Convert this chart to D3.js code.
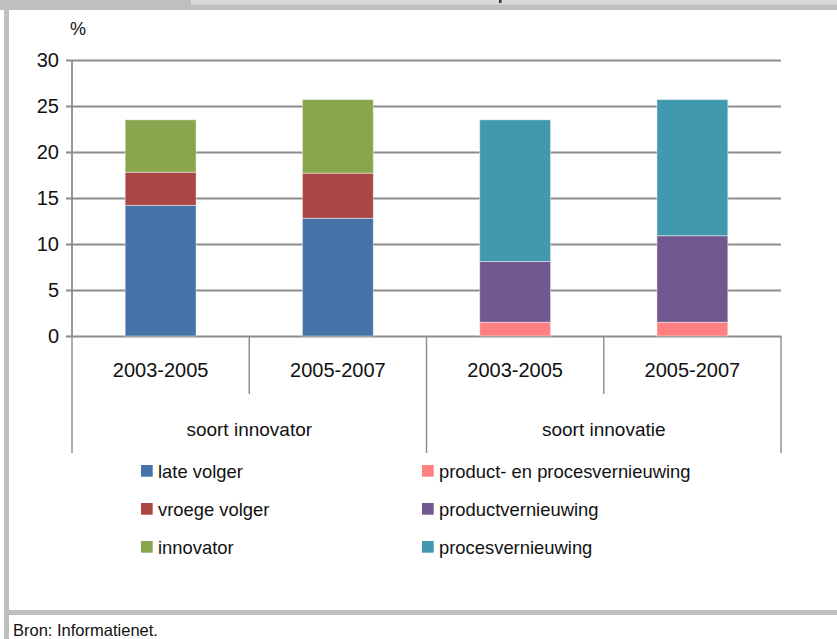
<!DOCTYPE html>
<html>
<head>
<meta charset="utf-8">
<script src="https://cdnjs.cloudflare.com/ajax/libs/d3/7.8.5/d3.min.js"></script>
<style>
  html, body { margin: 0; padding: 0; background: #fff; }
  svg { display: block; font-family: "Liberation Sans", Arial, sans-serif; }
</style>
</head>
<body>
<svg id="chart" width="837" height="639"></svg>
<script>
// Category axis: period per bar, grouped in two blocks
const periods = ["2003-2005", "2005-2007", "2003-2005", "2005-2007"];
const groups = ["soort innovator", "soort innovatie"];
const groupOf = [0, 0, 1, 1];

// Series values (%), one entry per bar
const lateVolger         = [14.2, 12.8, 0, 0];
const vroegeVolger       = [3.6, 4.9, 0, 0];
const innovator          = [5.7, 8.0, 0, 0];
const productEnProces    = [0, 0, 1.5, 1.5];
const productVernieuwing = [0, 0, 6.6, 9.4];
const procesVernieuwing  = [0, 0, 15.4, 14.8];

const seriesNames = ["late volger", "vroege volger", "innovator",
  "product- en procesvernieuwing", "productvernieuwing", "procesvernieuwing"];
const seriesValues = [lateVolger, vroegeVolger, innovator,
  productEnProces, productVernieuwing, procesVernieuwing];
const seriesColors = ["#4572a7", "#aa4643", "#89a54e", "#ff8080", "#71588f", "#4198af"];

const yTicks = [0, 5, 10, 15, 20, 25, 30];

const svg = d3.select("#chart");

// Page frame
svg.append("rect").attr("x", 0).attr("y", 0).attr("width", 837).attr("height", 10).attr("fill", "#bfbfbf");
svg.append("rect").attr("x", 191).attr("y", 0).attr("width", 646).attr("height", 4.7).attr("fill", "#d9d9d9");
svg.append("rect").attr("x", 499).attr("y", 0).attr("width", 2.5).attr("height", 3).attr("fill", "#333");
svg.append("rect").attr("x", 4).attr("y", 10).attr("width", 5).attr("height", 629).attr("fill", "#bfbfbf");
svg.append("rect").attr("x", 9).attr("y", 610).attr("width", 828).attr("height", 5).attr("fill", "#bfbfbf");

const plot = { left: 72, right: 781, top: 60, bottom: 336 };

const y = d3.scaleLinear().domain([0, 30]).range([plot.bottom, plot.top]);
const idx = d3.range(periods.length);
const xCat = d3.scaleBand().domain(idx).range([plot.left, plot.right]).padding(0);
const xBar = d3.scaleBand().domain(idx).range([plot.left, plot.right])
  .paddingInner(0.6).paddingOuter(0.3);

const gridColor = "#8c8c8c";

// Gridlines with outward ticks
const yAxis = d3.axisLeft(y).tickValues(yTicks)
  .tickSize(-(plot.right - plot.left)).tickSizeOuter(0).tickPadding(13);
const gy = svg.append("g").attr("transform", `translate(${plot.left},0)`).call(yAxis);
gy.select(".domain").remove();
gy.selectAll(".tick line").attr("x1", -6).attr("stroke", gridColor).attr("stroke-width", 1.8);
gy.selectAll(".tick text").attr("font-size", 20).attr("fill", "#111")
  .attr("font-family", "'Liberation Sans', Arial, sans-serif");

// Vertical value axis line
svg.append("line").attr("x1", plot.left).attr("x2", plot.left)
  .attr("y1", plot.top).attr("y2", plot.bottom)
  .attr("stroke", gridColor).attr("stroke-width", 1.8);

svg.append("text").attr("x", 70).attr("y", 35).attr("font-size", 18).attr("fill", "#111").text("%");

// Stacked bars
const rows = idx.map(i => {
  const r = { i };
  seriesNames.forEach((n, k) => r[n] = seriesValues[k][i]);
  return r;
});
const stacked = d3.stack().keys(seriesNames)(rows);

svg.append("g").selectAll("g").data(stacked).join("g")
  .attr("fill", (d, k) => seriesColors[k])
  .selectAll("rect").data(d => d.filter(p => p[1] - p[0] > 0)).join("rect")
  .attr("x", d => xBar(d.data.i))
  .attr("width", xBar.bandwidth())
  .attr("y", d => y(d[1]))
  .attr("height", d => y(d[0]) - y(d[1]))
  .attr("stroke", "#ffffff").attr("stroke-opacity", 0.45).attr("stroke-width", 1);

// Category dividers: short between periods, long between groups
const bounds = [plot.left].concat(idx.map(i => xCat(i) + xCat.step()));
bounds.forEach((bx, k) => {
  const isGroupEdge = (k === 0 || k === bounds.length - 1 || groupOf[k] !== groupOf[k - 1]);
  svg.append("line").attr("x1", bx).attr("x2", bx)
    .attr("y1", plot.bottom).attr("y2", isGroupEdge ? 453 : 394)
    .attr("stroke", gridColor).attr("stroke-width", 1.4);
});

// Period labels
svg.append("g").selectAll("text").data(idx).join("text")
  .attr("x", i => xCat(i) + xCat.bandwidth() / 2)
  .attr("y", 377)
  .attr("text-anchor", "middle").attr("font-size", 20).attr("fill", "#111")
  .text(i => periods[i]);

// Group labels
svg.append("g").selectAll("text").data(groups).join("text")
  .attr("x", (g, gi) => {
    const members = idx.filter(i => groupOf[i] === gi);
    const x0 = xCat(members[0]);
    const x1 = xCat(members[members.length - 1]) + xCat.step();
    return (x0 + x1) / 2;
  })
  .attr("y", 436)
  .attr("text-anchor", "middle").attr("font-size", 19).attr("fill", "#111")
  .text(g => g);

// Legend: two columns of three
const legendCols = [141, 422];
const legendRows = [465, 503, 541];
const leg = svg.append("g").selectAll("g").data(seriesNames).join("g")
  .attr("transform", (n, k) => `translate(${legendCols[Math.floor(k / 3)]},${legendRows[k % 3]})`);
leg.append("rect").attr("width", 11.7).attr("height", 11.7).attr("fill", (n, k) => seriesColors[k]);
leg.append("text").attr("x", 17).attr("y", 12.7).attr("font-size", 18.4).attr("fill", "#111").text(n => n);

// Source line
svg.append("text").attr("x", 13).attr("y", 636).attr("font-size", 16.5).attr("fill", "#111")
  .text("Bron: Informatienet.");
</script>
</body>
</html>
